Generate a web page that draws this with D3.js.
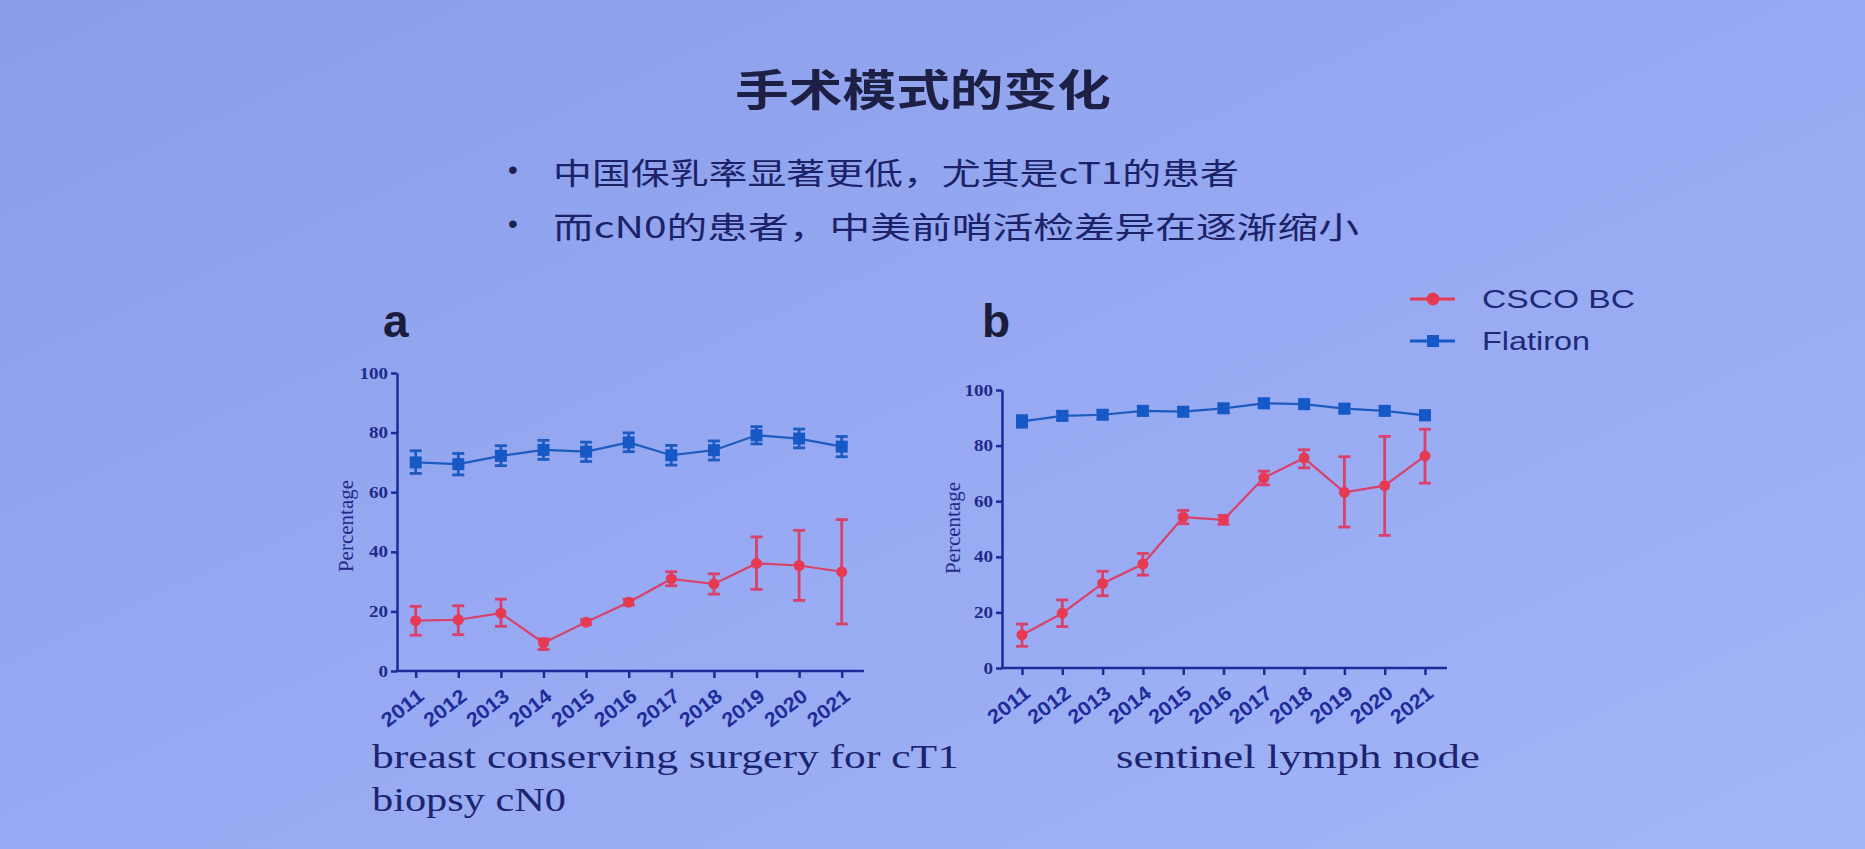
<!DOCTYPE html>
<html><head><meta charset="utf-8">
<script src="https://cdn.jsdelivr.net/npm/d3@7"></script>
<style>html,body{margin:0;padding:0;overflow:hidden;background:#96a9f2}</style>
</head><body>
<svg id="c" width="1865" height="849"></svg>
<script>
// ---------- data ----------
const years = ["2011","2012","2013","2014","2015","2016","2017","2018","2019","2020","2021"];
const yTicks = [0, 20, 40, 60, 80, 100];
const seriesNames = ["CSCO BC", "Flatiron"];

// panel a: breast conserving surgery for cT1
const cscoA   = [16.9, 17.2, 19.4, 9.4, 16.4, 23.1, 30.9, 29.2, 36.1, 35.4, 33.3];
const cscoALo = [12.0, 12.2, 15.0, 7.2, 15.6, 22.1, 28.6, 25.8, 27.4, 23.7, 15.8];
const cscoAHi = [21.7, 21.9, 24.1, 10.8, 17.2, 24.1, 33.3, 32.6, 45.0, 47.2, 50.8];
const flatA   = [70.0, 69.4, 72.2, 74.2, 73.6, 76.7, 72.4, 74.1, 79.1, 78.0, 75.3];
const flatALo = [66.3, 65.8, 68.9, 71.0, 70.3, 73.6, 69.1, 70.8, 76.2, 74.9, 71.9];
const flatAHi = [73.9, 73.0, 75.6, 77.4, 76.8, 79.9, 75.7, 77.2, 82.0, 81.2, 78.7];

// panel b: sentinel lymph node biopsy cN0
const cscoB   = [11.9, 19.7, 30.4, 37.4, 54.3, 53.3, 68.4, 75.5, 63.2, 65.6, 76.3];
const cscoBLo = [7.8, 14.9, 26.0, 33.4, 51.9, 51.7, 65.9, 72.0, 50.7, 47.7, 66.5];
const cscoBHi = [15.8, 24.5, 34.8, 41.2, 56.7, 54.9, 70.8, 78.5, 76.0, 83.3, 85.9];
const flatB   = [88.7, 90.7, 91.1, 92.5, 92.2, 93.4, 95.2, 94.9, 93.3, 92.5, 90.9];
const flatBLo = [86.6, 89.2, 89.6, 91.0, 90.7, 91.9, 93.7, 93.4, 91.8, 91.0, 89.3];
const flatBHi = [90.8, 92.2, 92.6, 94.0, 93.7, 94.9, 96.7, 96.4, 94.8, 94.0, 92.5];

const titleText = "手术模式的变化";
const bulletLines = ["中国保乳率显著更低，尤其是cT1的患者", "而cN0的患者，中美前哨活检差异在逐渐缩小"];
const panelLetters = ["a", "b"];
const yLabel = "Percentage";
const captionA = ["breast conserving surgery for cT1", "biopsy cN0"];
const captionB = ["sentinel lymph node"];

// ---------- style ----------
const RED = "#e63a52", RED_LINE = "#d9416a", BLUE = "#1659c6", BLUE_LINE = "#1e5bc0";
const AXIS = "#1b2b98", TEXT_DARK = "#1c2268";

const svg = d3.select("#c");
const defs = svg.append("defs");
const grad = defs.append("linearGradient").attr("id","bg").attr("x1","0").attr("y1","0").attr("x2","1").attr("y2","1");
grad.append("stop").attr("offset","0").attr("stop-color","#8b9de9");
grad.append("stop").attr("offset","0.5").attr("stop-color","#96a9f2");
grad.append("stop").attr("offset","1").attr("stop-color","#a3b6f8");
svg.append("rect").attr("width",1865).attr("height",849).attr("fill","url(#bg)");

function stretchedText(x, y, txt, len, opts) {
  const t = svg.append("text").attr("x", x).attr("y", y).text(txt)
    .attr("font-family", opts.family).attr("font-size", opts.size)
    .attr("font-weight", opts.weight || "normal").attr("fill", opts.fill || TEXT_DARK);
  if (len) t.attr("textLength", len).attr("lengthAdjust", "spacingAndGlyphs");
  return t;
}

// title
stretchedText(735, 106, titleText, 376, {family:"'Noto Sans CJK SC'", size:43, weight:700, fill:"#1d1f45"});
// bullets
const bulletY = [184, 238];
const bulletLen = [686, 806];
bulletLines.forEach((s, i) => {
  stretchedText(508, bulletY[i] - 5, "•", null, {family:"'Liberation Sans', Arial", size:28, fill:"#1d2050"});
  stretchedText(553, bulletY[i], s, bulletLen[i], {family:"'Noto Sans CJK SC'", size:30});
});

// legend
const legendY = [299, 341];
const legendLen = [153, 108];
seriesNames.forEach((name, i) => {
  const g = svg.append("g");
  g.append("line").attr("x1", 1410).attr("x2", 1455).attr("y1", legendY[i]).attr("y2", legendY[i])
    .attr("stroke", i === 0 ? RED : BLUE).attr("stroke-width", 3);
  if (i === 0) g.append("circle").attr("cx", 1433).attr("cy", legendY[i]).attr("r", 6.5).attr("fill", RED);
  else g.append("rect").attr("x", 1427).attr("y", legendY[i]-6).attr("width", 12).attr("height", 12).attr("fill", BLUE);
  stretchedText(1482, legendY[i] + 9, name, legendLen[i], {family:"'Liberation Sans', Arial", size:25, fill:"#1e2a78"});
});

function panel(o) {
  const x = d3.scalePoint().domain(years).range([o.x0, o.x1]);
  const y = d3.scaleLinear().domain([0, 100]).range([o.yb, o.yt]);
  const g = svg.append("g");

  // letter
  g.append("text").attr("x", o.letterX).attr("y", 337).text(o.letter)
    .attr("font-family", "'Liberation Sans', Arial").attr("font-weight", 700)
    .attr("font-size", 46).attr("fill", "#1b1d3a");

  // y axis
  const ya = g.append("g").attr("transform", `translate(${o.ax},0)`)
    .call(d3.axisLeft(y).tickValues(yTicks).tickSize(6).tickSizeOuter(0).tickPadding(3));
  ya.select(".domain").attr("stroke", AXIS).attr("stroke-width", 2.5);
  ya.selectAll(".tick line").attr("stroke", AXIS).attr("stroke-width", 2.5);
  ya.selectAll(".tick text").attr("font-family", "'Liberation Serif', serif").attr("font-weight", 700)
    .attr("font-size", 16).attr("fill", "#1f2a8a")
    .attr("textLength", d => String(d).length * 9.5).attr("lengthAdjust", "spacingAndGlyphs");

  // x axis
  const xa = g.append("g").attr("transform", `translate(0,${o.yb})`)
    .call(d3.axisBottom(x).tickSize(7).tickSizeOuter(0));
  xa.select(".domain").remove();
  xa.append("line").attr("x1", o.ax - 1).attr("x2", o.xEnd).attr("y1", 0).attr("y2", 0)
    .attr("stroke", AXIS).attr("stroke-width", 2.5);
  xa.selectAll(".tick line").attr("stroke", AXIS).attr("stroke-width", 2.5);
  xa.selectAll(".tick text").attr("x", 0).attr("y", 0).attr("dy", "0.35em")
    .attr("text-anchor", "end").attr("transform", "translate(5,22) rotate(-38)")
    .attr("font-family", "'Liberation Sans', Arial").attr("font-weight", 700)
    .attr("font-size", 20).attr("fill", "#1f2c9a")
    .attr("textLength", 48).attr("lengthAdjust", "spacingAndGlyphs");

  // y label
  g.append("text").attr("transform", `translate(${o.labelX},${o.labelY}) rotate(-90)`)
    .attr("text-anchor", "middle").text(yLabel)
    .attr("font-family", "'Liberation Serif', serif").attr("font-size", 21).attr("fill", "#1f2a8a");

  // series
  const series = [
    {v: o.flat, lo: o.flatLo, hi: o.flatHi, color: BLUE, line: BLUE_LINE, shape: "square"},
    {v: o.csco, lo: o.cscoLo, hi: o.cscoHi, color: RED, line: RED_LINE, shape: "circle"}
  ];
  series.forEach(s => {
    const idx = d3.range(years.length);
    g.append("path").datum(idx)
      .attr("d", d3.line().x(i => x(years[i])).y(i => y(s.v[i])))
      .attr("fill", "none").attr("stroke", s.line).attr("stroke-width", 2.2);
    const eb = g.append("g");
    idx.forEach(i => {
      const cx = x(years[i]);
      eb.append("line").attr("x1", cx).attr("x2", cx).attr("y1", y(s.lo[i])).attr("y2", y(s.hi[i]))
        .attr("stroke", s.line).attr("stroke-width", 2.8);
      [s.lo[i], s.hi[i]].forEach(val => {
        eb.append("line").attr("x1", cx - 6).attr("x2", cx + 6).attr("y1", y(val)).attr("y2", y(val))
          .attr("stroke", s.line).attr("stroke-width", 2.8);
      });
      if (s.shape === "circle")
        eb.append("circle").attr("cx", cx).attr("cy", y(s.v[i])).attr("r", 5.5).attr("fill", s.color);
      else
        eb.append("rect").attr("x", cx - 6).attr("y", y(s.v[i]) - 6).attr("width", 12).attr("height", 12).attr("fill", s.color);
    });
  });
}

panel({letter: panelLetters[0], letterX: 383, x0: 415.7, x1: 841.7, yb: 671, yt: 373, ax: 397, xEnd: 864,
  labelX: 353, labelY: 526,
  csco: cscoA, cscoLo: cscoALo, cscoHi: cscoAHi, flat: flatA, flatLo: flatALo, flatHi: flatAHi});
panel({letter: panelLetters[1], letterX: 982, x0: 1022, x1: 1425, yb: 668, yt: 390, ax: 1002, xEnd: 1447,
  labelX: 960, labelY: 528,
  csco: cscoB, cscoLo: cscoBLo, cscoHi: cscoBHi, flat: flatB, flatLo: flatBLo, flatHi: flatBHi});

// captions
const capFont = {family:"'Liberation Serif', serif", size:34, fill:"#1c2470"};
stretchedText(372, 768, captionA[0], 587, capFont);
stretchedText(372, 811, captionA[1], 194, capFont);
stretchedText(1116, 768, captionB[0], 364, capFont);
</script>
</body></html>
